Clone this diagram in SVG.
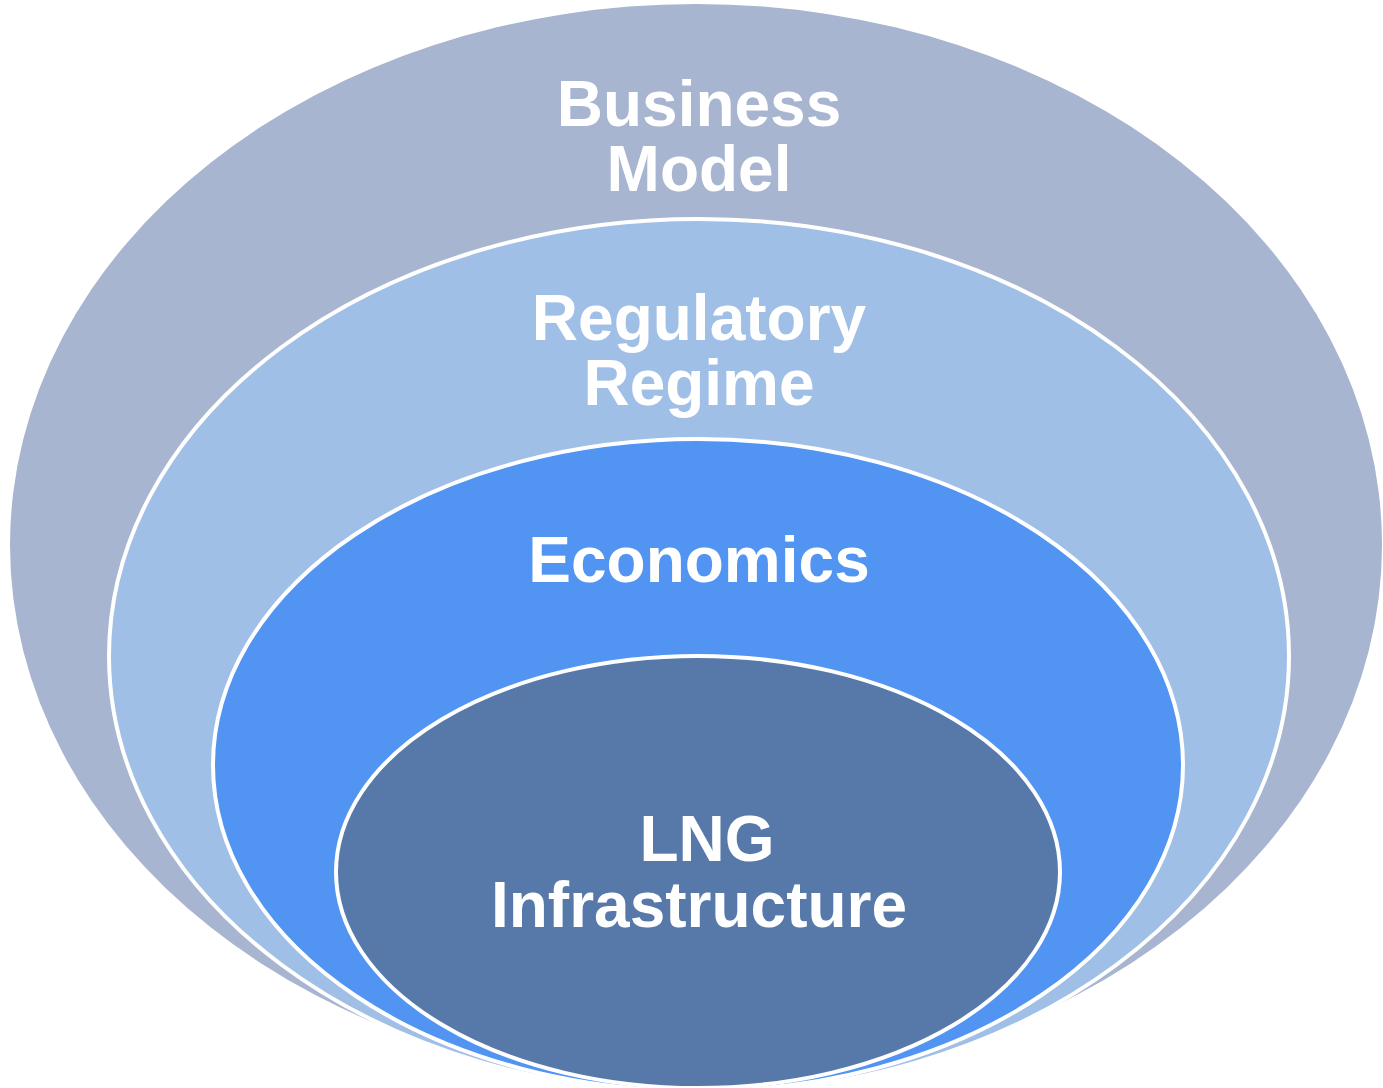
<svg xmlns="http://www.w3.org/2000/svg" width="1383" height="1088" viewBox="0 0 1383 1088">
<style>
.lbl{font-family:"Liberation Sans",Arial,sans-serif;font-weight:bold;font-size:64px;fill:#ffffff;text-anchor:middle}
.ring{stroke:#ffffff;stroke-width:4}
</style>
<rect width="1383" height="1088" fill="#ffffff"/>
<g id="business-model">
<ellipse cx="696" cy="545" rx="686" ry="541" fill="#A8B5D0"/>
<text class="lbl" x="699" y="126">Business</text>
<text class="lbl" x="699" y="191">Model</text>
</g>
<g id="regulatory-regime">
<ellipse class="ring" cx="699" cy="656" rx="590" ry="437" fill="#A0BFE6"/>
<text class="lbl" x="699" y="340">Regulatory</text>
<text class="lbl" x="699" y="405">Regime</text>
</g>
<g id="economics">
<ellipse class="ring" cx="698" cy="765" rx="485" ry="326" fill="#5294F2"/>
<text class="lbl" x="699" y="582">Economics</text>
</g>
<g id="lng-infrastructure">
<ellipse class="ring" cx="698" cy="872" rx="362" ry="216" fill="#5679AA"/>
<text class="lbl" x="707" y="861">LNG</text>
<text class="lbl" x="699" y="927">Infrastructure</text>
</g>
<g id="connectors"/>
</svg>
